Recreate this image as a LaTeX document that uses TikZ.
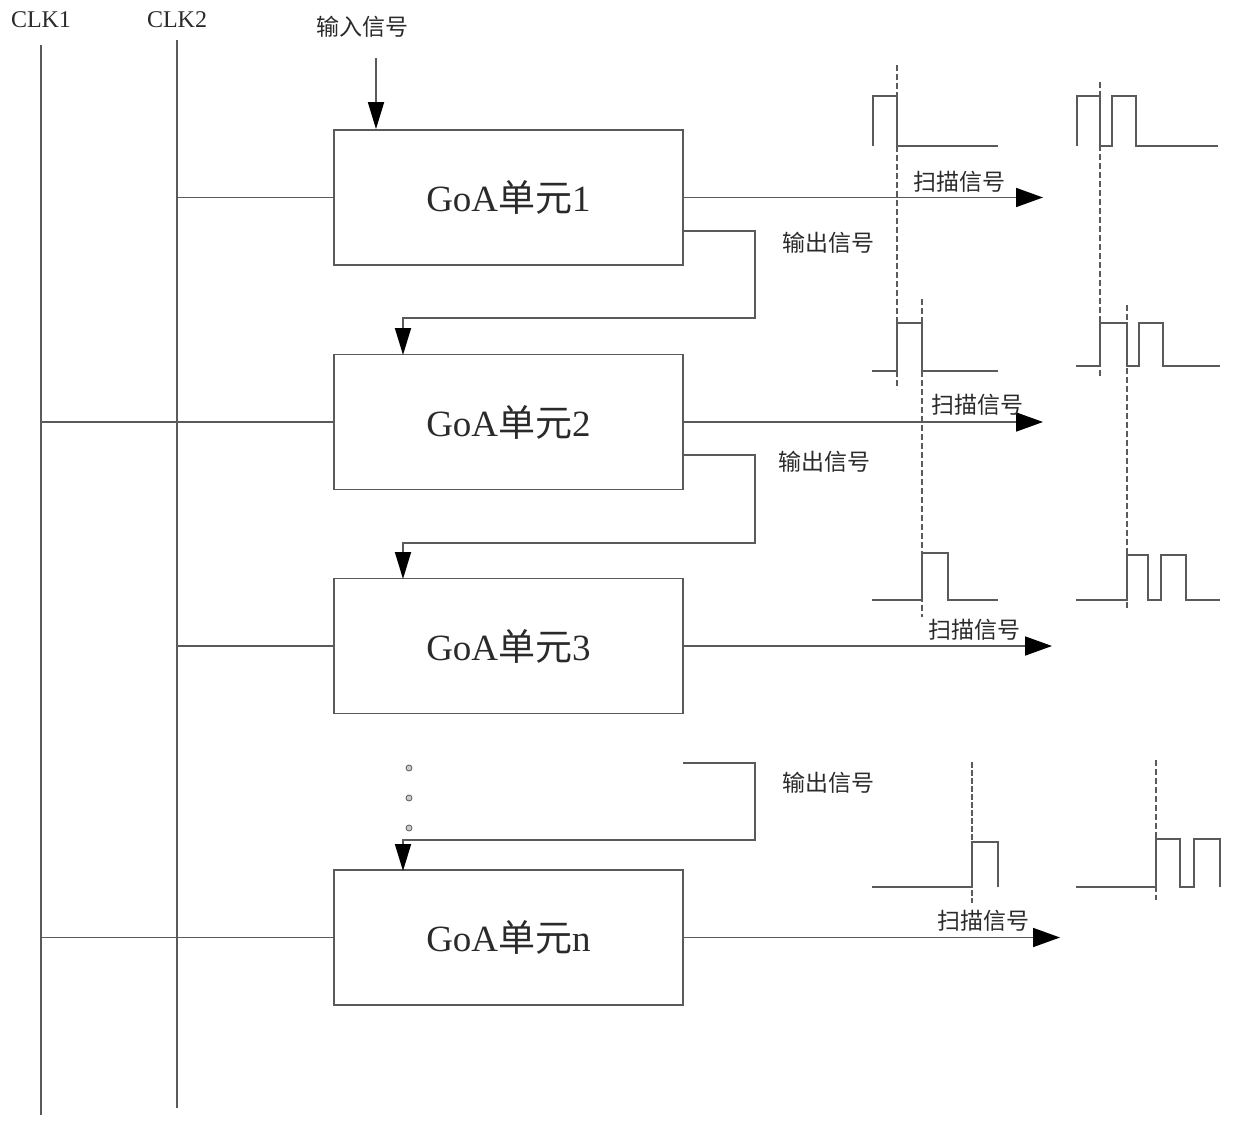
\documentclass[tikz,border=0pt]{standalone}
\usepackage{fontspec}
\setmainfont{Liberation Serif}
\newfontfamily\cjk{Noto Sans CJK SC}
\usetikzlibrary{arrows.meta}
\definecolor{ln}{HTML}{5A5A5A}
\definecolor{tx}{HTML}{2A2A2A}
\tikzset{
  wire/.style={draw=ln, line width=1.8pt},
  unit/.style={draw=ln, line width=1.8pt, rectangle, minimum width=349pt, minimum height=135pt, inner sep=0pt, font=\fontsize{37}{40}\selectfont, text=tx},
  downarrow/.style={wire, -{Triangle[length=27pt,width=16pt,color=black]}},
  scanarrow/.style={wire, -{Triangle[length=27pt,width=19pt,color=black]}},
  zhlabel/.style={font=\cjk\fontsize{23}{25}\selectfont, text=tx, inner sep=0pt},
  clklabel/.style={font=\fontsize{24}{26}\selectfont, text=tx, inner sep=0pt},
  wave/.style={draw=ln, line width=1.8pt},
  vdash/.style={draw=ln, line width=1.5pt, dash pattern=on 6pt off 3pt},
  vdashthick/.style={draw=ln, line width=2.4pt, dash pattern=on 6pt off 2pt},
  dotmark/.style={circle, draw=ln, fill=gray!40, line width=0.8pt, minimum size=6pt, inner sep=0pt}
}
\begin{document}
\begin{tikzpicture}[x=1pt,y=-1pt]
\useasboundingbox (0,0) rectangle (1240,1137);

% clock lines
\node[clklabel] (clk1) at (41,20) {CLK1};
\node[clklabel] (clk2) at (177,20) {CLK2};
\coordinate (c1t) at (41,45);
\coordinate (c1b) at (41,1115);
\coordinate (c2t) at (177,40);
\coordinate (c2b) at (177,1108);
\draw[wire] (c1t) -- (c1b);
\draw[wire] (c2t) -- (c2b);

% GoA units
\node[unit] (u1) at (508.5,197.5) {GoA{\cjk 单元}1};
\node[unit] (u2) at (508.5,422) {GoA{\cjk 单元}2};
\node[unit] (u3) at (508.5,646) {GoA{\cjk 单元}3};
\node[unit] (un) at (508.5,937.5) {GoA{\cjk 单元}n};

% input signal
\node[zhlabel] (inp) at (362,27) {输入信号};
\coordinate (inpstart) at (376,58);
\draw[downarrow] (inpstart) -- (inpstart |- u1.north);

% clock connections
\draw[wire] (c2t |- u1.west) -- (u1.west);
\draw[wire] (c1t |- u2.west) -- (u2.west);
\draw[wire] (c2t |- u3.west) -- (u3.west);
\draw[wire] (c1t |- un.west) -- (un.west);

% scan outputs
\coordinate (s1) at (1043,197.5);
\coordinate (s2) at (1043,422);
\coordinate (s3) at (1052,646);
\coordinate (sn) at (1060,937.5);
\draw[scanarrow] (u1.east) -- (s1);
\draw[scanarrow] (u2.east) -- (s2);
\draw[scanarrow] (u3.east) -- (s3);
\draw[scanarrow] (un.east) -- (sn);
\node[zhlabel] (l1) at (959,182) {扫描信号};
\node[zhlabel] (l2) at (977,405) {扫描信号};
\node[zhlabel] (l3) at (974,630) {扫描信号};
\node[zhlabel] (ln4) at (983,921) {扫描信号};

% output signal feedback
\coordinate (o1) at (683,231);
\coordinate (o2) at (683,455);
\coordinate (o3) at (683,763);
\draw[downarrow] (o1) -- (755,231) -- (755,318) -- (403,318) -- (403,355);
\draw[downarrow] (o2) -- (755,455) -- (755,543) -- (403,543) -- (403,579);
\draw[downarrow] (o3) -- (755,763) -- (755,840) -- (403,840) -- (403,871);
\node[zhlabel] (f1) at (828,243) {输出信号};
\node[zhlabel] (f2) at (824,462) {输出信号};
\node[zhlabel] (f3) at (828,783) {输出信号};

% dots
\node[dotmark] (dA) at (409,768) {};
\node[dotmark] (dB) at (409,798) {};
\node[dotmark] (dC) at (409,828) {};

% dashed time markers
\draw[vdash] (897,65) -- (897,389);
\draw[vdash] (922,299) -- (922,617);
\draw[vdashthick] (972,762) -- (972,903);
\draw[vdash] (1100,82) -- (1100,378);
\draw[vdash] (1127,305) -- (1127,610);
\draw[vdash] (1156,760) -- (1156,900);

% waveforms, left column
\draw[wave] (873,146) -- (873,96) -- (897,96) -- (897,146) -- (998,146);
\draw[wave] (872,371) -- (897,371) -- (897,323) -- (922,323) -- (922,371) -- (998,371);
\draw[wave] (872,600) -- (922,600) -- (922,553) -- (948,553) -- (948,600) -- (998,600);
\draw[wave] (872,887) -- (972,887) -- (972,842) -- (998,842) -- (998,887);

% waveforms, right column
\draw[wave] (1077,146) -- (1077,96) -- (1100,96) -- (1100,146) -- (1112,146) -- (1112,96) -- (1136,96) -- (1136,146) -- (1218,146);
\draw[wave] (1076,366) -- (1100,366) -- (1100,323) -- (1127,323) -- (1127,366) -- (1139,366) -- (1139,323) -- (1163,323) -- (1163,366) -- (1220,366);
\draw[wave] (1076,600) -- (1127,600) -- (1127,555) -- (1148,555) -- (1148,600) -- (1161,600) -- (1161,555) -- (1186,555) -- (1186,600) -- (1220,600);
\draw[wave] (1076,887) -- (1156,887) -- (1156,839) -- (1180,839) -- (1180,887) -- (1194,887) -- (1194,839) -- (1220,839) -- (1220,887);
\end{tikzpicture}
\end{document}
